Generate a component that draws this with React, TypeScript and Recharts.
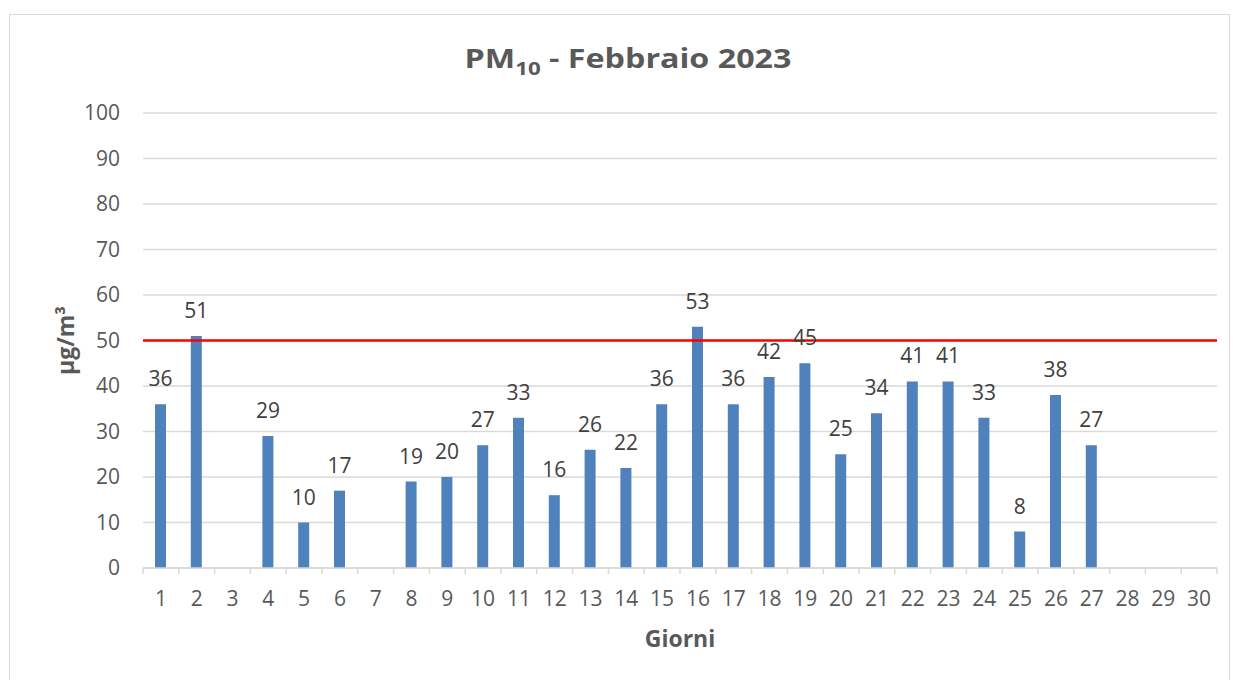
import { BarChart, Bar, XAxis, YAxis, CartesianGrid, ReferenceLine, LabelList } from 'recharts'

const DAYS = Array.from({ length: 30 }, (_, i) => String(i + 1))
const PM10 = [
  36, 51, null, 29, 10, 17, null, 19, 20, 27,
  33, 16, 26, 22, 36, 53, 36, 42, 45, 25,
  34, 41, 41, 33, 8, 38, 27, null, null, null,
]
const Y_TICKS = [0, 10, 20, 30, 40, 50, 60, 70, 80, 90, 100]
const LIMIT = 50

const data = DAYS.map((d, i) => ({ day: d, value: PM10[i] }))

const FONT = '"Open Sans", sans-serif'
const TEXT = '#595959'
const GRID = '#d9d9d9'

// Excel-style axis: label in the middle, tick marks on the category edges
function DayTick({ x, y, payload, index }: any) {
  const half = payload?.offset ?? 0
  return (
    <g>
      <line x1={x - half} x2={x - half} y1={y} y2={y + 6} stroke={GRID} strokeWidth={1.5} />
      {index === DAYS.length - 1 && (
        <line x1={x + half} x2={x + half} y1={y} y2={y + 6} stroke={GRID} strokeWidth={1.5} />
      )}
      <text x={x} y={y + 38} textAnchor="middle" fill={TEXT} fontSize={21} fontFamily={FONT}>
        {payload.value}
      </text>
    </g>
  )
}

function YTitle({ viewBox }: any) {
  const cx = viewBox.x + 65
  const cy = viewBox.y + viewBox.height / 2
  return (
    <text x={cx} y={cy} transform={`rotate(-90 ${cx} ${cy})`} textAnchor="middle" dominantBaseline="central"
      fill={TEXT} fontSize={23} fontWeight={700} fontFamily={FONT}>
      µg/m³
    </text>
  )
}

function XTitle({ viewBox }: any) {
  const cx = viewBox.x + viewBox.width / 2
  return (
    <text x={cx} y={viewBox.y + 79} textAnchor="middle" fill={TEXT} fontSize={23} fontWeight={700} fontFamily={FONT}>
      Giorni
    </text>
  )
}

export default function App() {
  return (
    <div style={{ position: 'absolute', left: 0, top: 0, width: 1233, height: 680, background: '#fff', overflow: 'hidden' }}>
      <div style={{ position: 'absolute', left: 9, top: 14, width: 1221, height: 700, border: `1.5px solid ${GRID}`, boxSizing: 'border-box' }} />
      <div style={{
        position: 'absolute', left: 0, top: 45, width: 1256, textAlign: 'center', fontFamily: FONT, fontWeight: 700,
        fontSize: 26, lineHeight: 1, color: TEXT, transform: 'scaleX(1.24)', transformOrigin: '628px 0',
      }}>
        PM<sub style={{ fontSize: 18, verticalAlign: -7, lineHeight: 1 }}>10</sub> - Febbraio 2023
      </div>
      <div style={{ position: 'absolute', left: 0, top: 0 }}>
        <BarChart width={1233} height={680} data={data} margin={{ top: 113, right: 16, bottom: 0, left: 0 }} barSize={11}>
          <CartesianGrid horizontal vertical={false} stroke={GRID} strokeWidth={1.5} />
          <XAxis dataKey="day" height={112} tickSize={0} tickMargin={0} tickLine={false} interval={0}
            axisLine={{ stroke: GRID, strokeWidth: 1.5 }} tick={<DayTick />} label={<XTitle />} />
          <YAxis width={143} domain={[0, 100]} ticks={Y_TICKS} axisLine={false} tickLine={false}
            tickSize={0} tickMargin={23} tick={{ fill: TEXT, fontSize: 21, fontFamily: FONT }} label={<YTitle />} />
          <Bar dataKey="value" fill="#4f81bd" isAnimationActive={false}>
            <LabelList dataKey="value" position="top" offset={18} fill="#404040" fontSize={21} fontFamily={FONT} />
          </Bar>
          <ReferenceLine y={LIMIT} stroke="#ff0000" strokeWidth={2.5} />
        </BarChart>
      </div>
    </div>
  )
}
